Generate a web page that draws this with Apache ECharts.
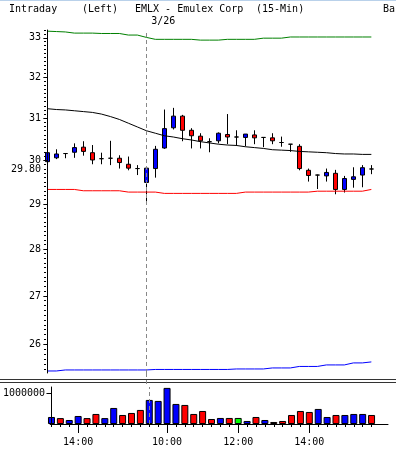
<!DOCTYPE html>
<html><head><meta charset="utf-8">
<script src="https://cdn.jsdelivr.net/npm/echarts@6/dist/echarts.min.js"></script>
<style>html,body{margin:0;padding:0;background:#fff}#c{width:396px;height:452px}</style>
</head><body><div id="c"></div>
<script>
// ---- data (15-min bars) ----
const opens  = [29.97,30.06,30.16,30.19,30.31,30.18,30.04,30.05,30.05,29.91,29.81,29.49,29.81,30.29,30.77,31.05,30.71,30.57,30.44,30.46,30.61,30.55,30.54,30.60,30.54,30.53,30.42,30.38,30.33,29.77,29.66,29.64,29.70,29.33,29.56,29.66,29.80];
const closes = [30.18,30.15,30.16,30.30,30.21,30.01,30.04,30.05,29.95,29.82,29.81,29.82,30.26,30.75,31.05,30.71,30.58,30.46,30.44,30.64,30.55,30.55,30.62,30.53,30.54,30.46,30.42,30.38,29.81,29.65,29.66,29.72,29.33,29.58,29.62,29.83,29.80];
const lows   = [29.95,30.03,30.05,30.06,30.11,29.91,29.91,29.89,29.81,29.77,29.66,28.98,29.60,30.27,30.73,30.45,30.28,30.28,30.19,30.40,30.38,30.34,30.33,30.38,30.31,30.38,30.32,30.20,29.77,29.51,29.34,29.51,29.22,29.26,29.37,29.38,29.68];
const highs  = [30.22,30.26,30.16,30.40,30.45,30.36,30.18,30.46,30.12,30.09,29.89,29.82,30.34,31.21,31.25,31.08,30.76,30.64,30.52,30.66,31.10,30.71,30.62,30.71,30.55,30.64,30.56,30.38,30.38,29.81,29.67,29.81,29.78,29.64,29.84,29.89,29.89];
const volumes = [226000,190000,129000,258000,190000,323000,190000,516000,290000,355000,452000,774000,742000,1161000,645000,613000,323000,419000,161000,194000,194000,194000,97000,226000,129000,65000,97000,290000,419000,387000,484000,226000,290000,290000,323000,323000,290000];
const maLine    = [31.23,31.21,31.20,31.18,31.16,31.14,31.10,31.04,30.97,30.88,30.79,30.70,30.64,30.58,30.55,30.51,30.48,30.44,30.41,30.38,30.36,30.35,30.32,30.30,30.28,30.25,30.24,30.23,30.21,30.20,30.19,30.18,30.16,30.15,30.15,30.14,30.14];
const upperBand = [33.17,33.16,33.15,33.12,33.12,33.12,33.11,33.11,33.11,33.07,33.07,33.01,32.96,32.96,32.96,32.96,32.96,32.94,32.94,32.94,32.96,32.96,32.96,32.96,32.99,32.99,32.99,33.02,33.02,33.02,33.02,33.02,33.02,33.02,33.02,33.02,33.02];
const lowerBand = [25.47,25.47,25.49,25.49,25.49,25.49,25.49,25.49,25.49,25.49,25.49,25.49,25.50,25.50,25.50,25.50,25.50,25.50,25.50,25.50,25.50,25.51,25.51,25.51,25.51,25.53,25.53,25.53,25.56,25.56,25.56,25.59,25.59,25.59,25.63,25.63,25.65];
const redLine   = [29.33,29.33,29.33,29.33,29.30,29.30,29.30,29.30,29.30,29.27,29.27,29.27,29.27,29.24,29.24,29.24,29.24,29.24,29.24,29.24,29.24,29.24,29.27,29.27,29.27,29.27,29.27,29.27,29.27,29.27,29.29,29.29,29.29,29.29,29.29,29.29,29.33];
const timeLabels = ['14:00','10:00','12:00','14:00'];
const timeLabelIndex = [3,13,21,29];
const priceTicks = [26,27,28,29,30,31,32,33];
const priceMin = 25.43, priceMax = 33.20;
const lastPrice = 29.80;
const dayBreakIndex = 11;
const dayBreakLabel = '3/26';
const volumeTicks = [1000000];
const volumeMax = 1190000;
const titleParts = [['Intraday',9],['(Left)',82],['EMLX - Emulex Corp',135],['(15-Min)',256],['Ba',383]];

// ---- build ----
const L = Math.log;
const FONT = 'DejaVu Sans Mono';
const idx = closes.map((_, i) => i);
const candleData = idx.map(i => [i, L(opens[i]), L(closes[i]), L(lows[i]), L(highs[i])]);
const lineData = arr => arr.map((v, i) => [i, L(v)]);
const volColor = i => {
  if (i === 0) return '#0000ff';
  if (closes[i] > closes[i-1]) return '#0000ff';
  if (closes[i] < closes[i-1]) return '#ff0000';
  return '#00ff00';
};
const volData = volumes.map((v, i) => ({ value: [i, v], itemStyle: { color: volColor(i) } }));
const minorTicks = [];
for (let k = 254; k <= 332; k++) minorTicks.push(L(k / 10));

const xMin = -0.15, xMax = 37.85;
const axisFont = { fontFamily: FONT, fontSize: 10, color: '#000' };
const blackLine = { show: true, lineStyle: { color: '#000', width: 1 } };

const chart = echarts.init(document.getElementById('c'), null, { renderer: 'canvas' });
chart.setOption({
  animation: false,
  backgroundColor: '#fff',
  grid: [
    { left: 46, right: 8, top: 30, bottom: 79 },
    { left: 46, right: 8, top: 387, bottom: 28 }
  ],
  xAxis: [
    { type: 'value', gridIndex: 0, min: xMin, max: xMax, show: false },
    { type: 'value', gridIndex: 1, min: xMin, max: xMax, position: 'bottom',
      axisLine: blackLine, splitLine: { show: false },
      axisTick: { show: true, customValues: timeLabelIndex, length: 9, lineStyle: { color: '#000' } },
      axisLabel: { show: true, customValues: timeLabelIndex, margin: 13, ...axisFont,
        formatter: v => timeLabels[timeLabelIndex.indexOf(Math.round(v))] || '' } },
    { type: 'value', gridIndex: 1, min: xMin, max: xMax, position: 'bottom',
      axisLine: { show: false }, splitLine: { show: false }, axisLabel: { show: false },
      axisTick: { show: true, customValues: idx, length: 3, lineStyle: { color: '#000' } } }
  ],
  yAxis: [
    { type: 'value', gridIndex: 0, min: L(priceMin), max: L(priceMax), position: 'left', z: 5,
      axisLine: blackLine, splitLine: { show: false },
      axisTick: { show: true, customValues: priceTicks.map(L), length: 4, lineStyle: { color: '#000' } },
      axisLabel: { show: true, customValues: priceTicks.map(L).concat([L(lastPrice)]), margin: 5, ...axisFont,
        formatter: v => { const p = Math.exp(v); return Math.abs(p - lastPrice) < 0.005 ? lastPrice.toFixed(2) : String(Math.round(p)); } } },
    { type: 'value', gridIndex: 0, min: L(priceMin), max: L(priceMax), position: 'left',
      axisLine: { show: false }, splitLine: { show: false }, axisLabel: { show: false },
      axisTick: { show: true, customValues: minorTicks, length: 2, lineStyle: { color: '#000' } } },
    { type: 'value', gridIndex: 1, min: 0, max: volumeMax, position: 'left', z: 5,
      axisLine: blackLine, splitLine: { show: false },
      axisTick: { show: true, customValues: volumeTicks, length: 5, lineStyle: { color: '#000' } },
      axisLabel: { show: true, customValues: volumeTicks, margin: 5, ...axisFont, formatter: v => String(Math.round(v)) } }
  ],
  series: [
    { type: 'line', xAxisIndex: 0, yAxisIndex: 0, data: lineData(upperBand), symbol: 'none', lineStyle: { color: '#008000', width: 1 }, silent: true },
    { type: 'line', xAxisIndex: 0, yAxisIndex: 0, data: lineData(lowerBand), symbol: 'none', lineStyle: { color: '#0000ff', width: 1 }, silent: true },
    { type: 'line', xAxisIndex: 0, yAxisIndex: 0, data: lineData(redLine), symbol: 'none', lineStyle: { color: '#ff0000', width: 1 }, silent: true },
    { type: 'line', xAxisIndex: 0, yAxisIndex: 0, data: lineData(maLine), symbol: 'none', lineStyle: { color: '#000', width: 1 }, silent: true },
    { type: 'candlestick', xAxisIndex: 0, yAxisIndex: 0, data: candleData, barWidth: 5, clip: true,
      itemStyle: { color: '#0000ff', color0: '#ff0000', borderColor: '#000', borderColor0: '#000', borderColorDoji: '#000', borderWidth: 1 },
      markLine: { silent: true, symbol: 'none', label: { show: true, position: 'end', formatter: dayBreakLabel, ...axisFont, offset: [17, 1] },
        lineStyle: { color: '#888', type: [4, 3], width: 1 }, data: [{ xAxis: dayBreakIndex }] } },
    { type: 'bar', xAxisIndex: 1, yAxisIndex: 2, data: volData, barWidth: 7, clip: true,
      itemStyle: { borderColor: '#000', borderWidth: 1 },
      markLine: { silent: true, symbol: 'none', label: { show: false },
        lineStyle: { color: '#888', type: [4, 3], width: 1 }, data: [{ xAxis: dayBreakIndex }] }, z: 1 }
  ],
  graphic: [
    { type: 'rect', shape: { x: 0, y: 0, width: 396, height: 1 }, style: { fill: '#b9d1ea' } },
    { type: 'line', shape: { x1: 0, y1: 379.5, x2: 396, y2: 379.5 }, style: { stroke: '#333', lineWidth: 1 } },
    { type: 'line', shape: { x1: 0, y1: 382.5, x2: 396, y2: 382.5 }, style: { stroke: '#333', lineWidth: 1 } },
    { type: 'line', shape: { x1: 146.5, y1: 373, x2: 146.5, y2: 387 }, style: { stroke: '#888', lineWidth: 1, lineDash: [4, 3] } },
    ...titleParts.map(([t, x]) => ({ type: 'text', left: x, top: 4, style: { text: t, font: '10px "' + FONT + '"', fill: '#000' } }))
  ]
});
</script></body></html>
